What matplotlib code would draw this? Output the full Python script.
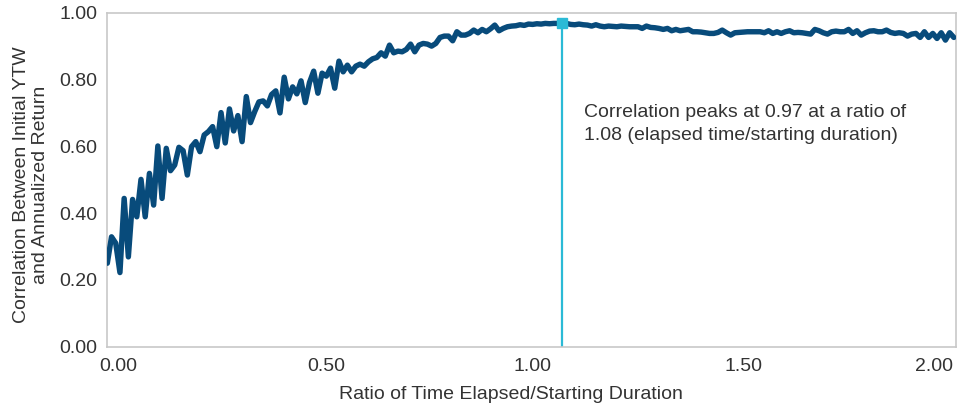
import numpy as np
import matplotlib
matplotlib.use("Agg")
import matplotlib.pyplot as plt
from matplotlib.transforms import ScaledTranslation

# ---- data ----
ratio_step = 0.01
correlation = [
    0.250, 0.329, 0.310, 0.222, 0.444, 0.269, 0.441, 0.389, 0.501, 0.389,
    0.519, 0.424, 0.601, 0.444, 0.594, 0.527, 0.544, 0.597, 0.587, 0.514,
    0.599, 0.614, 0.584, 0.634, 0.644, 0.659, 0.599,
    0.701, 0.610, 0.712, 0.646, 0.692, 0.614, 0.749, 0.671, 0.704, 0.733,
    0.736, 0.721, 0.755, 0.766, 0.700, 0.807, 0.742, 0.778, 0.757, 0.796,
    0.731, 0.791, 0.825, 0.759, 0.819, 0.810, 0.834, 0.774, 0.855,
    0.823, 0.843, 0.823, 0.840, 0.846, 0.840, 0.853, 0.862, 0.866, 0.880,
    0.870, 0.903, 0.880, 0.885, 0.883, 0.890, 0.906, 0.883, 0.903, 0.908,
    0.906, 0.900, 0.908, 0.926, 0.930, 0.930, 0.916, 0.943, 0.933, 0.933,
    0.938, 0.948, 0.940, 0.950, 0.943, 0.952, 0.963, 0.946, 0.953, 0.958,
    0.960, 0.961, 0.964, 0.962, 0.966, 0.965, 0.967, 0.966, 0.968, 0.967,
    0.968, 0.968, 0.970,
    0.968, 0.965, 0.964, 0.966, 0.964, 0.963, 0.960, 0.964, 0.960, 0.958,
    0.960, 0.959, 0.958, 0.960, 0.959, 0.958, 0.958, 0.958, 0.953, 0.960,
    0.956, 0.955, 0.953, 0.950, 0.953, 0.946, 0.950, 0.946, 0.948, 0.950,
    0.943, 0.943, 0.942, 0.940, 0.938, 0.938, 0.941, 0.948, 0.940, 0.933,
    0.940, 0.941, 0.942, 0.943, 0.943, 0.943, 0.943, 0.940, 0.946, 0.938,
    0.943, 0.938, 0.943, 0.946, 0.940, 0.941, 0.940, 0.938, 0.936, 0.950,
    0.946, 0.940, 0.936, 0.943, 0.945, 0.943, 0.943, 0.950, 0.938, 0.946,
    0.933, 0.940, 0.945, 0.946, 0.943, 0.943, 0.948, 0.941, 0.938, 0.940,
    0.938, 0.930, 0.936, 0.938, 0.926, 0.943, 0.926, 0.938, 0.923, 0.940,
    0.918, 0.940, 0.926,
]
ratio = np.round(np.arange(len(correlation)) * ratio_step, 2)

peak_ratio = 1.08
peak_corr = 0.97

x_ticks = [0.0, 0.5, 1.0, 1.5, 2.0]
x_tick_labels = ["0.00", "0.50", "1.00", "1.50", "2.00"]
y_ticks = [0.0, 0.2, 0.4, 0.6, 0.8, 1.0]
y_tick_labels = ["0.00", "0.20", "0.40", "0.60", "0.80", "1.00"]

x_title = "Ratio of Time Elapsed/Starting Duration"
y_title = "Correlation Between Initial YTW\nand Annualized Return"
note = "Correlation peaks at 0.97 at a ratio of\n1.08 (elapsed time/starting duration)"

# ---- style ----
plt.rcParams['font.family'] = ['Liberation Sans', 'DejaVu Sans']
line_color = "#084b7b"
peak_color = "#2bbad6"
text_color = "#333333"
spine_color = "#c8c8c8"
fs = 14

fig = plt.figure(figsize=(9.72, 4.13), dpi=100)
ax = fig.add_axes([0.1104, 0.1605, 0.8731, 0.8087])

ax.vlines(peak_ratio, 0, peak_corr, color=peak_color, lw=1.6, zorder=2)
ax.plot(ratio, correlation, color=line_color, lw=3.9,
        solid_joinstyle="round", solid_capstyle="round", zorder=3)
ax.plot([peak_ratio], [peak_corr], marker="s", ms=7.5, color=peak_color,
        linestyle="none", zorder=4)

ax.set_xlim(0, 2.015)
ax.set_ylim(0, 1.0)

ax.set_xticks(x_ticks)
ax.set_xticklabels(x_tick_labels)
ax.set_yticks(y_ticks)
ax.set_yticklabels(y_tick_labels)
ax.tick_params(axis="both", length=0, labelsize=fs, colors=text_color)
ax.tick_params(axis="x", pad=8)
ax.tick_params(axis="y", pad=7)

# nudge x tick labels to where the reference places them (pixels)
offsets_px = [10.7, 8, 4.4, 4.8, -16]
for lab, dx in zip(ax.get_xticklabels(), offsets_px):
    lab.set_transform(lab.get_transform() +
                      ScaledTranslation(dx / 100, 0, fig.dpi_scale_trans))

for s in ax.spines.values():
    s.set_color(spine_color)
    s.set_linewidth(1.2)

ax.set_xlabel(x_title, fontsize=fs, color=text_color)
ax.xaxis.set_label_coords(0.4757, -0.118)
ax.set_ylabel(y_title, fontsize=fs, color=text_color, linespacing=1.1)
ax.yaxis.set_label_coords(-0.069, 0.484)

ax.text(1.1315, 0.727, note, fontsize=fs, color=text_color,
        ha="left", va="top", linespacing=1.5)

fig.savefig("out.png", dpi=100)
